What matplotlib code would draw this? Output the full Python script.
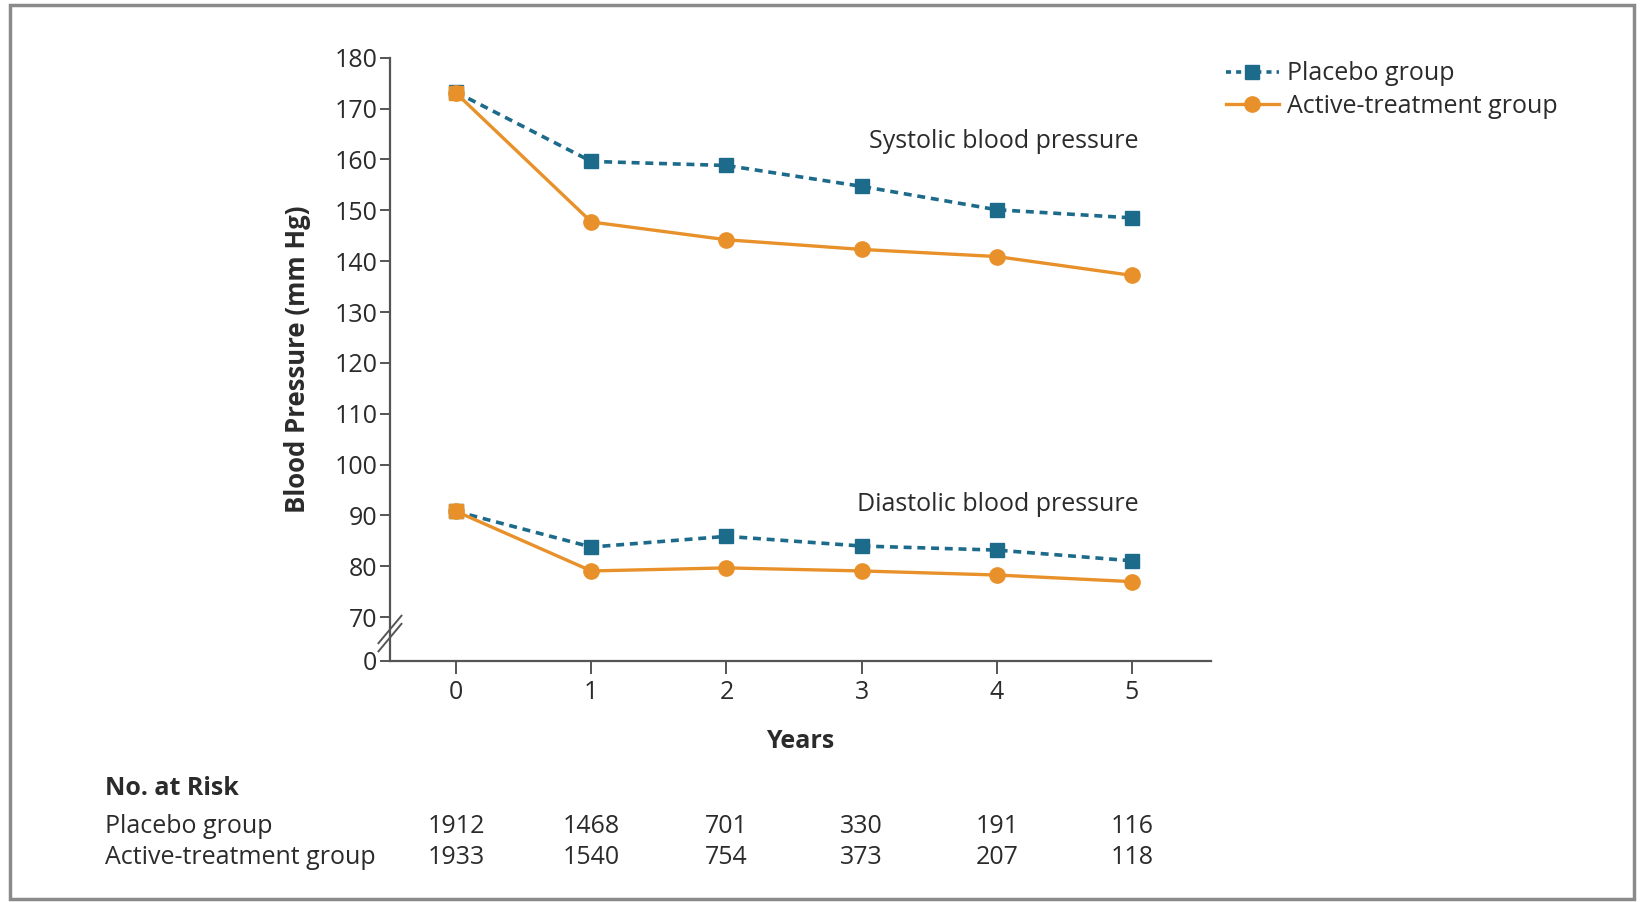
import matplotlib.pyplot as plt
from matplotlib.patches import Rectangle
from matplotlib.lines import Line2D
import matplotlib.transforms as mtransforms

plt.rcParams['font.family'] = ['Open Sans', 'DejaVu Sans']

# Data
years = [0, 1, 2, 3, 4, 5]
placebo_systolic = [173.2, 159.6, 158.8, 154.7, 150.1, 148.5]
active_systolic = [173.0, 147.7, 144.2, 142.3, 140.9, 137.2]
placebo_diastolic = [90.8, 83.8, 85.9, 84.0, 83.2, 81.1]
active_diastolic = [90.8, 79.1, 79.7, 79.1, 78.3, 77.0]

yticks = [180, 170, 160, 150, 140, 130, 120, 110, 100, 90, 80, 70]
risk_groups = ['Placebo group', 'Active-treatment group']
risk_placebo = [1912, 1468, 701, 330, 191, 116]
risk_active = [1933, 1540, 754, 373, 207, 118]

blue = '#1d6b8a'
orange = '#e8912a'
txt = '#2b2b2b'
axis_col = '#555555'

fig = plt.figure(figsize=(16.42, 9.02), dpi=100)
ax = fig.add_axes([0.2375, 0.2672, 0.5, 0.6689])

zero_pos = 61.4  # where the broken-axis "0" sits

for p, a in [(placebo_systolic, active_systolic), (placebo_diastolic, active_diastolic)]:
    ax.plot(years, p, color=blue, lw=2.6, dashes=(2.2, 1.6), marker='s', ms=10,
            markerfacecolor=blue, markeredgecolor=blue, zorder=3)
    ax.plot(years, a, color=orange, lw=2.4, marker='o', ms=11,
            markerfacecolor=orange, markeredgecolor=orange, zorder=4)
    ax.plot(years[:1], a[:1], ls='none', marker='s', ms=10, color=orange, zorder=5)

ax.set_xlim(-0.49, 5.585)
ax.set_ylim(zero_pos, 180)
ax.set_yticks(yticks + [zero_pos])
ax.set_yticklabels([str(t) for t in yticks] + ['0'])
ax.set_xticks(years)

for s in ['top', 'right']:
    ax.spines[s].set_visible(False)
for s in ['left', 'bottom']:
    ax.spines[s].set_color(axis_col)
    ax.spines[s].set_linewidth(1.6)
ax.tick_params(axis='both', direction='out', length=7, width=1.4, color=axis_col,
               labelsize=18, labelcolor=txt, pad=2)
ax.tick_params(axis='x', length=9, pad=5)

# break marks on the y axis
trans = mtransforms.blended_transform_factory(ax.transAxes, ax.transData)
for off in [-0.8, 0.8]:
    ax.plot([-0.014, 0.014], [66.8 + off - 2.7, 66.8 + off + 2.7], color=axis_col,
            lw=1.4, transform=trans, clip_on=False)

ax.set_ylabel('Blood Pressure (mm Hg)', fontsize=18.5, fontweight='bold', color=txt, labelpad=17)
ax.set_xlabel('Years', fontsize=18, fontweight='bold', color=txt, labelpad=17)

ax.text(5.05, 163.6, 'Systolic blood pressure', ha='right', va='center', fontsize=18, color=txt)
ax.text(5.05, 92.1, 'Diastolic blood pressure', ha='right', va='center', fontsize=18, color=txt)

# legend
handles = [Line2D([], [], color=blue, lw=2.6, dashes=(1.4, 1.4), marker='s', ms=10),
           Line2D([], [], color=orange, lw=2.4, marker='o', ms=11)]
fig.legend(handles, ['Placebo group', 'Active-treatment group'], loc='upper left',
           bbox_to_anchor=(0.733, 0.957), frameon=False, fontsize=18, handlelength=2.1,
           handletextpad=0.35, labelspacing=0.3, labelcolor=txt)

# number at risk table
fig.text(0.064, 0.126, 'No. at Risk', fontsize=18, fontweight='bold', color=txt, va='center')
tr = mtransforms.blended_transform_factory(ax.transData, fig.transFigure)
for label, vals, yy in [(risk_groups[0], risk_placebo, 0.084), (risk_groups[1], risk_active, 0.049)]:
    fig.text(0.064, yy, label, fontsize=18, color=txt, va='center')
    for x, v in zip(years, vals):
        ax.text(x, yy, str(v), transform=tr, ha='center', va='center', fontsize=18, color=txt)

fig.patches.append(Rectangle((0.006, 0.003), 0.989, 0.991, transform=fig.transFigure,
                             fill=False, edgecolor='#8a8a8a', lw=2.5))

fig.savefig('out.png', dpi=100)
